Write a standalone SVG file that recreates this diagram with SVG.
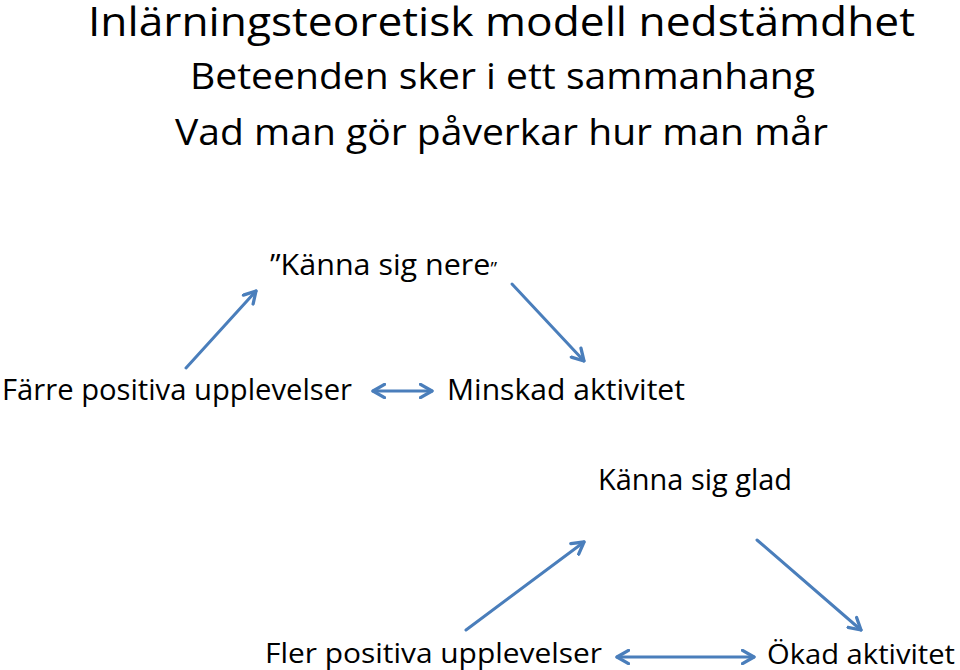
<svg xmlns="http://www.w3.org/2000/svg" width="960" height="670" viewBox="0 0 960 670">
<style>
text{font-family:"Open Sans","DejaVu Sans",sans-serif;fill:#000}
.t1{font-size:40px}
.t2{font-size:36px}
.lb{font-size:29px}
.lb2{font-size:28px}
.c{stroke:#4a7ebb;stroke-width:3;fill:none;stroke-linecap:round}
</style>
<defs>
<marker id="ah" viewBox="0 0 10 10" refX="8" refY="5" markerWidth="5.5" markerHeight="5.5" orient="auto-start-reverse" markerUnits="strokeWidth">
<path d="M1,1 L8,5 L1,9" fill="none" stroke="#4a7ebb" stroke-width="2" stroke-linecap="round" stroke-linejoin="round"/>
</marker>
</defs>
<g id="title">
<text class="t1" x="88" y="36" textLength="827" lengthAdjust="spacingAndGlyphs">Inlärningsteoretisk modell nedstämdhet</text>
<text class="t2" x="190" y="89" textLength="625" lengthAdjust="spacingAndGlyphs">Beteenden sker i ett sammanhang</text>
<text class="t2" x="175" y="145" textLength="653" lengthAdjust="spacingAndGlyphs">Vad man gör påverkar hur man mår</text>
</g>
<g id="n-nere"><text class="lb" x="270" y="275" textLength="227" lengthAdjust="spacingAndGlyphs">”Känna sig nere<tspan font-size="18">”</tspan></text></g>
<g id="n-farre"><text class="lb" x="2" y="400" textLength="350" lengthAdjust="spacingAndGlyphs">Färre positiva upplevelser</text></g>
<g id="n-minskad"><text class="lb" x="447" y="400" textLength="238" lengthAdjust="spacingAndGlyphs">Minskad aktivitet</text></g>
<g id="n-glad"><text class="lb" x="598" y="490" textLength="194" lengthAdjust="spacingAndGlyphs">Känna sig glad</text></g>
<g id="n-fler"><text class="lb2" x="265" y="663" textLength="337" lengthAdjust="spacingAndGlyphs">Fler positiva upplevelser</text></g>
<g id="n-okad"><text class="lb2" x="767" y="664" textLength="188" lengthAdjust="spacingAndGlyphs">Ökad aktivitet</text></g>
<g id="connectors">
<line class="c" x1="186" y1="368" x2="256" y2="291" marker-end="url(#ah)"/>
<line class="c" x1="512" y1="284" x2="584" y2="361" marker-end="url(#ah)"/>
<line class="c" x1="373" y1="391" x2="432" y2="391" marker-start="url(#ah)" marker-end="url(#ah)"/>
<line class="c" x1="466" y1="630" x2="584" y2="542" marker-end="url(#ah)"/>
<line class="c" x1="757" y1="540" x2="861" y2="630" marker-end="url(#ah)"/>
<line class="c" x1="617" y1="657" x2="754" y2="657" marker-start="url(#ah)" marker-end="url(#ah)"/>
</g>
</svg>
